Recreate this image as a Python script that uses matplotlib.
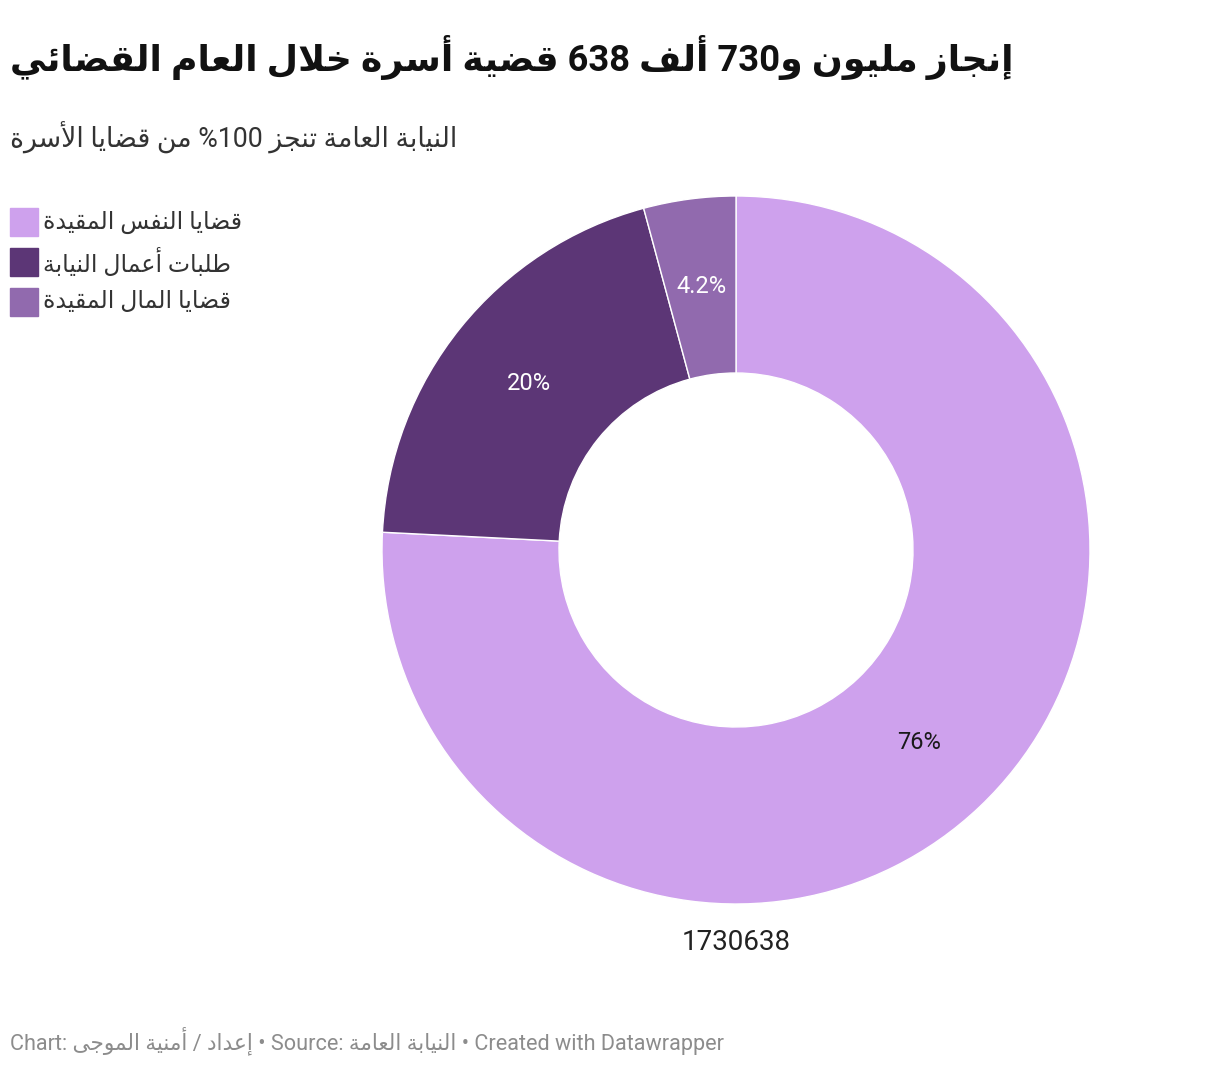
import re
import matplotlib
matplotlib.use("Agg")
import matplotlib.pyplot as plt
import numpy as np

# chart data
categories = ["قضايا النفس المقيدة", "طلبات أعمال النيابة", "قضايا المال المقيدة"]
shares = [75.8, 20.0, 4.2]
share_labels = ["76%", "20%", "4.2%"]
total_label = "1730638"
colors = ["#cea1ed", "#5c3676", "#916aae"]
label_colors = ["#1a1a1a", "#ffffff", "#ffffff"]

title = "إنجاز مليون و730 ألف 638 قضية أسرة خلال العام القضائي"
subtitle = "النيابة العامة تنجز 100% من قضايا الأسرة"
byline = "إعداد / أمنية الموجى"
source = "النيابة العامة"

# --- tiny arabic shaper (presentation forms) + visual reordering ---
RIGHT = {'آ': 0xFE81, 'أ': 0xFE83, 'ؤ': 0xFE85, 'إ': 0xFE87, 'ا': 0xFE8D, 'ة': 0xFE93,
         'د': 0xFEA9, 'ذ': 0xFEAB, 'ر': 0xFEAD, 'ز': 0xFEAF, 'و': 0xFEED, 'ى': 0xFEEF}
DUAL = {'ئ': 0xFE89, 'ب': 0xFE8F, 'ت': 0xFE95, 'ث': 0xFE99, 'ج': 0xFE9D, 'ح': 0xFEA1,
        'خ': 0xFEA5, 'س': 0xFEB1, 'ش': 0xFEB5, 'ص': 0xFEB9, 'ض': 0xFEBD, 'ط': 0xFEC1,
        'ظ': 0xFEC5, 'ع': 0xFEC9, 'غ': 0xFECD, 'ف': 0xFED1, 'ق': 0xFED5, 'ك': 0xFED9,
        'ل': 0xFEDD, 'م': 0xFEE1, 'ن': 0xFEE5, 'ه': 0xFEE9, 'ي': 0xFEF1}
LAM_ALEF = {'آ': 0xFEF5, 'أ': 0xFEF7, 'إ': 0xFEF9, 'ا': 0xFEFB}


def shape(text):
	out = []
	i = 0
	n = len(text)
	while i < n:
		c = text[i]
		linked_prev = i > 0 and text[i - 1] in DUAL
		if c == 'ل' and i + 1 < n and text[i + 1] in LAM_ALEF:
			out.append(chr(LAM_ALEF[text[i + 1]] + (1 if linked_prev else 0)))
			i += 2
			continue
		if c in DUAL:
			nxt = text[i + 1] if i + 1 < n else ''
			linked_next = nxt in DUAL or nxt in RIGHT
			k = {(False, False): 0, (True, False): 1, (False, True): 2, (True, True): 3}[(linked_prev, linked_next)]
			out.append(chr(DUAL[c] + k))
		elif c in RIGHT:
			out.append(chr(RIGHT[c] + (1 if linked_prev else 0)))
		else:
			out.append(c)
		i += 1
	return ''.join(out)


def rtl(text):
	# digit runs stay left-to-right, everything else is mirrored
	parts = re.split(r'([0-9][0-9.]*)', shape(text))
	return ''.join(p if re.match(r'[0-9]', p) else p[::-1] for p in reversed(parts))


W, H = 1220, 1074
fig = plt.figure(figsize=(W / 100, H / 100), dpi=100)
fam = ['Roboto', 'DejaVu Sans']


def px(x, y):
	return x / W, 1 - y / H


# donut
cx, cy, r = 736, 550, 354
ax = fig.add_axes([(cx - r) / W, (H - cy - r) / H, 2 * r / W, 2 * r / H])
wedges, _ = ax.pie(shares, colors=colors, startangle=90, counterclock=False, radius=1,
                   wedgeprops=dict(width=0.5, edgecolor='white', linewidth=1))
ax.set_xlim(-1, 1)
ax.set_ylim(-1, 1)
ax.set_aspect('equal')
ax.axis('off')

for w, lab, lc in zip(wedges, share_labels, label_colors):
	mid = np.deg2rad((w.theta1 + w.theta2) / 2)
	ax.text(0.75 * np.cos(mid), 0.75 * np.sin(mid), lab, ha='center', va='center',
	        fontsize=17, color=lc, family=fam)

# titles
fig.text(*px(10, 58), rtl(title), fontsize=26.2, fontweight='bold', color='#111111',
         family=fam, ha='left', va='center')
fig.text(*px(10, 138), rtl(subtitle), fontsize=19.3, color='#333333',
         family=fam, ha='left', va='center')

# legend
for i, (cat, col) in enumerate(zip(categories, colors)):
	y0 = 208 + 40 * i
	fig.patches.append(plt.Rectangle(px(10, y0 + 28), 28 / W, 28 / H, color=col,
	                                 transform=fig.transFigure, figure=fig))
	fig.text(*px(43, y0 + 14), rtl(cat), fontsize=17, color='#333333',
	         family=fam, ha='left', va='center')

# total below donut
fig.text(*px(736, 942), total_label, fontsize=20, color='#222222', family=fam,
         ha='center', va='center')

# footer
footer = "Chart: " + rtl(byline) + " • Source: " + rtl(source) + " • Created with Datawrapper"
fig.text(*px(10, 1041), footer, fontsize=15.6, color='#8c8c8c', family=fam,
         ha='left', va='center')

fig.savefig("out.png", dpi=100, facecolor='white')
